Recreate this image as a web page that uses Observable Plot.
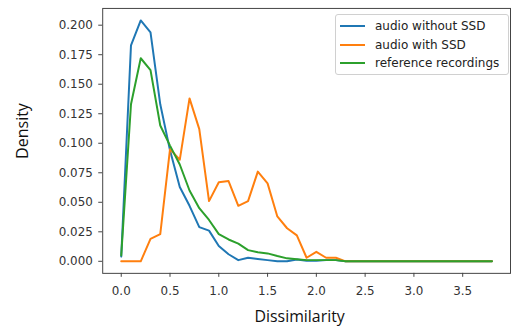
<!DOCTYPE html>
<html>
<head>
<meta charset="utf-8">
<script src="https://cdn.jsdelivr.net/npm/d3@7"></script>
<script src="https://cdn.jsdelivr.net/npm/@observablehq/plot@0.6"></script>
<style>
  html, body { margin: 0; padding: 0; background: #fff; overflow: hidden; }
  #wrap { position: relative; width: 511px; height: 329px; overflow: hidden; }
  #legend { position: absolute; left: 335px; top: 14px; width: 172px; height: 59px;
    border: 1px solid #d0d0d0; border-radius: 3px; background: rgba(255,255,255,0.85);
    font-family: "DejaVu Sans", sans-serif; font-size: 12px; color: #222; }
  .row { position: absolute; left: 0; height: 14px; display: flex; align-items: center; }
  .sw { width: 25px; height: 2px; margin-left: 4px; margin-right: 10px; }
  #ylab { position: absolute; left: 22px; top: 131px; transform: translate(-50%, -50%) rotate(-90deg);
    font-family: "Open Sans", sans-serif; font-size: 16px; color: #111; white-space: nowrap; line-height: 1; }
</style>
</head>
<body>
<div id="wrap"></div>
<script>
// Dissimilarity sample positions
const dissimilarity = [0.0,0.1,0.2,0.3,0.4,0.5,0.6,0.7,0.8,0.9,1.0,1.1,1.2,1.3,1.4,1.5,1.6,1.7,1.8,1.9,
  2.0,2.1,2.2,2.3,2.4,2.5,2.6,2.7,2.8,2.9,3.0,3.1,3.2,3.3,3.4,3.5,3.6,3.7,3.8];
const seriesNames = ["audio without SSD", "audio with SSD", "reference recordings"];
const seriesColors = ["#1f77b4", "#ff7f0e", "#2ca02c"];
const withoutSSD = [0.004,0.183,0.204,0.194,0.133,0.094,0.063,0.047,0.029,0.026,0.013,0.006,0.001,0.003,0.002,0.001,0.0,0.0,0.0015,0.0005,
  0.0005,0.001,0.001,0,0,0,0,0,0,0,0,0,0,0,0,0,0,0,0];
const withSSD = [0,0,0,0.019,0.023,0.095,0.086,0.138,0.112,0.051,0.067,0.068,0.047,0.051,0.076,0.066,0.038,0.028,0.022,0.003,
  0.008,0.003,0.003,0,0,0,0,0,0,0,0,0,0,0,0,0,0,0,0];
const reference = [0.005,0.133,0.172,0.162,0.115,0.098,0.082,0.06,0.045,0.035,0.023,0.0185,0.015,0.0095,0.0076,0.0067,0.0045,0.0025,0.0017,0.001,
  0.001,0.001,0.001,0,0,0,0,0,0,0,0,0,0,0,0,0,0,0,0];
const xTicks = [0.0,0.5,1.0,1.5,2.0,2.5,3.0,3.5];
const yTicks = [0.000,0.025,0.050,0.075,0.100,0.125,0.150,0.175,0.200];
const xLabel = "Dissimilarity";
const yLabel = "Density";

const allSeries = [withoutSSD, withSSD, reference];
const rows = [];
allSeries.forEach((vals, s) => vals.forEach((v, i) => rows.push({series: seriesNames[s], x: dissimilarity[i], y: v})));

const tickFont = "DejaVu Sans, sans-serif";
const chart = Plot.plot({
  width: 515,
  height: 329,
  marginLeft: 103,
  marginRight: 1,
  marginTop: 8,
  marginBottom: 54,
  style: {background: "#fff", color: "#333", fontFamily: tickFont, fontSize: "12px"},
  x: {domain: [-0.19, 3.99], label: null},
  y: {domain: [-0.0102, 0.2142], label: null},
  color: {domain: seriesNames, range: seriesColors},
  marks: [
    Plot.frame({stroke: "#444", strokeWidth: 1}),
    Plot.axisX({ticks: xTicks, tickFormat: d3.format(".1f"), tickSize: 4, tickPadding: 9, fontSize: 12, stroke: "#444", fill: "#333"}),
    Plot.axisY({ticks: yTicks, tickFormat: d3.format(".3f"), tickSize: 4, tickPadding: 6, fontSize: 12, stroke: "#444", fill: "#333"}),
    Plot.lineY(rows, {x: "x", y: "y", z: "series", stroke: "series", strokeWidth: 2, strokeLinejoin: "round"}),
    Plot.text([xLabel], {frameAnchor: "bottom", text: d => d, dy: 44, dx: -7, lineAnchor: "middle",
      fontFamily: "Open Sans, sans-serif", fontSize: 16, fill: "#111"})
  ]
});
const wrap = document.getElementById("wrap");
wrap.appendChild(chart);

const ylab = document.createElement("div");
ylab.id = "ylab";
ylab.textContent = yLabel;
wrap.appendChild(ylab);

const legend = document.createElement("div");
legend.id = "legend";
seriesNames.forEach((name, i) => {
  const r = document.createElement("div");
  r.className = "row";
  r.style.top = (4 + i * 18.5) + "px";
  const sw = document.createElement("div");
  sw.className = "sw";
  sw.style.background = seriesColors[i];
  const t = document.createElement("span");
  t.textContent = name;
  r.appendChild(sw); r.appendChild(t);
  legend.appendChild(r);
});
wrap.appendChild(legend);
</script>
</body>
</html>
